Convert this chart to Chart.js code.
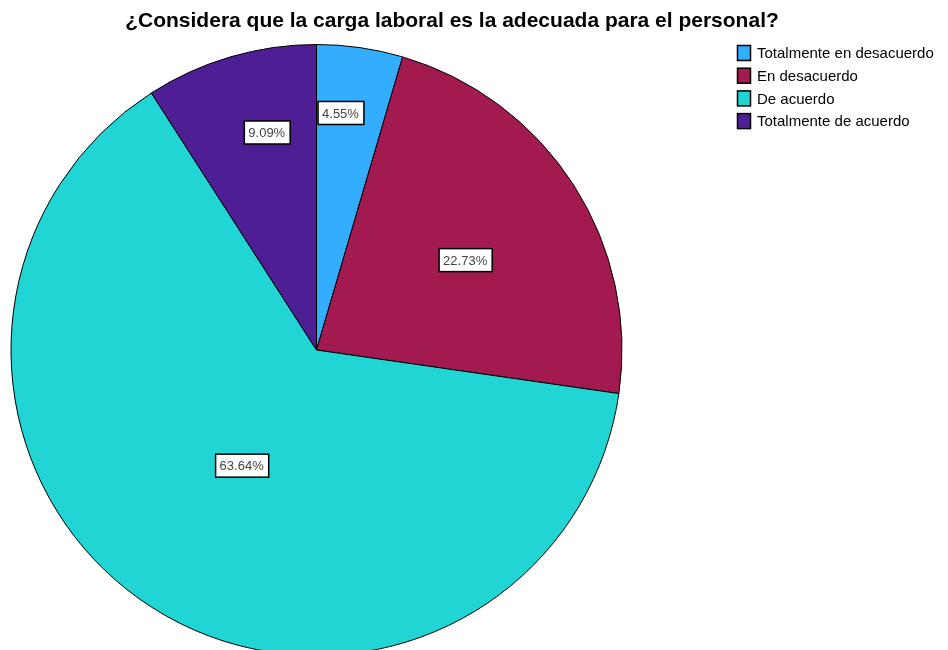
<!DOCTYPE html>
<html>
<head>
<meta charset="utf-8">
<script src="https://cdn.jsdelivr.net/npm/chart.js@4.4.0/dist/chart.umd.min.js"></script>
<style>
  html, body { margin: 0; padding: 0; background: #fff; overflow: hidden; }
  #wrap { width: 948px; height: 670px; }
</style>
</head>
<body>
<div id="wrap"><canvas id="pie" width="948" height="670"></canvas></div>
<script>
// Chart data
const categories = ['Totalmente en desacuerdo', 'En desacuerdo', 'De acuerdo', 'Totalmente de acuerdo'];
const percents = [4.55, 22.73, 63.64, 9.09];
const sliceColors = ['#33adfe', '#a21a4f', '#22d5d5', '#4e1f94'];
const chartTitle = '¿Considera que la carga laboral es la adecuada para el personal?';

// where each label sits inside its slice: [fraction of slice angle, fraction of radius]
const labelSpots = [[0.36, 0.78], [0.52, 0.57], [0.5, 0.45], [0.61, 0.73]];

// title + legend drawn by hand so the pie can stay on the left
const decorPlugin = {
  id: 'decor',
  afterDraw(chart) {
    const ctx = chart.ctx;
    ctx.save();
    ctx.fillStyle = '#000';
    ctx.font = 'bold 21px "Liberation Sans", Arial, sans-serif';
    ctx.textAlign = 'center';
    ctx.textBaseline = 'middle';
    ctx.fillText(chartTitle, 452, 21);

    // legend
    ctx.font = '15px "Liberation Sans", Arial, sans-serif';
    ctx.textAlign = 'left';
    chart.data.labels.forEach((lab, i) => {
      const y = 53 + i * 22.7;
      ctx.fillStyle = chart.data.datasets[0].backgroundColor[i];
      ctx.fillRect(737.5, y - 7.5, 13, 15);
      ctx.lineWidth = 1.5;
      ctx.strokeStyle = '#000';
      ctx.strokeRect(737.5, y - 7.5, 13, 15);
      ctx.fillStyle = '#000';
      ctx.fillText(lab, 757, y + 1);
    });

    // value labels
    const meta = chart.getDatasetMeta(0);
    ctx.font = '13px "Liberation Sans", Arial, sans-serif';
    meta.data.forEach((arc, i) => {
      const spot = labelSpots[i];
      const a = arc.startAngle + (arc.endAngle - arc.startAngle) * spot[0];
      const r = arc.outerRadius * spot[1];
      const cx = arc.x + Math.cos(a) * r;
      const cy = arc.y + Math.sin(a) * r;
      const txt = percents[i].toFixed(2) + '%';
      const w = ctx.measureText(txt).width + 9;
      const h = 23;
      ctx.fillStyle = '#fff';
      ctx.fillRect(cx - w / 2, cy - h / 2, w, h);
      ctx.lineWidth = 1.5;
      ctx.strokeStyle = '#000';
      ctx.strokeRect(cx - w / 2, cy - h / 2, w, h);
      ctx.fillStyle = '#444';
      ctx.fillText(txt, cx - w / 2 + 4, cy + 1);
    });
    ctx.restore();
  }
};

const ctx = document.getElementById('pie').getContext('2d');
const chart = new Chart(ctx, {
  type: 'pie',
  data: {
    labels: categories,
    datasets: [{
      data: percents,
      backgroundColor: sliceColors,
      borderColor: '#000',
      borderWidth: 1
    }]
  },
  options: {
    responsive: false,
    animation: false,
    layout: {
      padding: { left: 10, right: 325, top: 44, bottom: 14 }
    },
    plugins: {
      legend: { display: false },
      title: { display: false },
      tooltip: { enabled: false }
    }
  },
  plugins: [decorPlugin]
});
</script>
</body>
</html>
